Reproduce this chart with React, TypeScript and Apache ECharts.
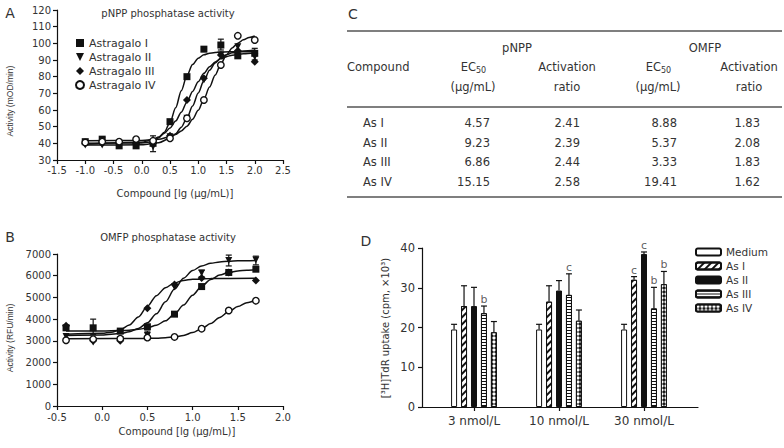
import React, { useEffect, useRef } from 'react';
import * as echarts from 'echarts';

// ---------- Panel A data (pNPP) ----------
const seriesNamesA = ['Astragalo I', 'Astragalo II', 'Astragalo III', 'Astragalo IV'];
const pointsA_I = [[-1.0, 41], [-0.7, 42.5], [-0.4, 38.5], [-0.1, 38.5], [0.2, 40], [0.5, 53], [0.8, 80], [1.1, 96.5], [1.4, 99], [1.7, 92.5], [2.0, 94]];
const pointsA_II = [[-1.0, 39], [-0.7, 39], [-0.4, 39.5], [-0.1, 39.5], [0.2, 38], [0.5, 44], [0.8, 55], [1.1, 78], [1.4, 93], [1.7, 98], [2.0, 92]];
const pointsA_III = [[-1.0, 40], [-0.7, 40], [-0.4, 40], [-0.1, 40], [0.2, 40], [0.5, 44.5], [0.8, 66], [1.1, 79], [1.4, 93], [1.7, 95.5], [2.0, 89]];
const pointsA_IV = [[-1.0, 40.5], [-0.7, 41], [-0.4, 41], [-0.1, 42.5], [0.2, 41.5], [0.5, 43], [0.8, 55], [1.1, 66], [1.4, 87], [1.7, 104.5], [2.0, 102]];
const curveA_I = [[-1.0, 40], [0.0, 40.2], [0.2, 41], [0.3, 43.3], [0.4, 46.7], [0.5, 52.5], [0.6, 61.3], [0.7, 71.6], [0.8, 80.7], [0.9, 87.3], [1.0, 91.1], [1.1, 93.1], [1.2, 94.1], [1.4, 94.8], [1.7, 95], [2.0, 95]];
const curveA_II = [[-1.0, 39], [0.0, 39.1], [0.3, 40.4], [0.5, 43], [0.6, 45.7], [0.7, 49.7], [0.8, 55.3], [0.9, 62.4], [1.0, 70.2], [1.1, 77.7], [1.2, 83.8], [1.3, 88.2], [1.4, 91.3], [1.5, 93.1], [1.6, 94.3], [1.8, 95.4], [2.0, 95.8]];
const curveA_III = [[-1.0, 39.5], [0.0, 40.6], [0.2, 42.3], [0.3, 43.8], [0.4, 46], [0.5, 49.2], [0.6, 53.4], [0.7, 58.7], [0.8, 64.8], [0.9, 71.1], [1.0, 77], [1.1, 82], [1.2, 85.9], [1.3, 88.8], [1.4, 90.7], [1.5, 92], [1.6, 92.9], [1.8, 93.8], [2.0, 94.2]];
const curveA_IV = [[-1.0, 41.5], [0.0, 41.75], [0.3, 42.5], [0.5, 44], [0.6, 45.3], [0.7, 47.4], [0.8, 50.3], [0.9, 54.4], [1.0, 59.9], [1.1, 66.5], [1.2, 73.75], [1.3, 81], [1.4, 87.6], [1.5, 93.1], [1.6, 97.2], [1.7, 100.1], [1.8, 102.1], [1.9, 103.5], [2.0, 104.4]];
const errorsA = [[-0.7, 40.5, 43.5], [0.2, 35, 44.5], [1.4, 96, 102.5], [2.0, 90, 97]];

// ---------- Panel B data (OMFP) ----------
const pointsB_I = [[-0.4, 3600], [-0.1, 3600], [0.2, 3450], [0.5, 3650], [0.8, 4230], [1.1, 5500], [1.4, 6150], [1.7, 6300]];
const pointsB_II = [[-0.4, 3200], [-0.1, 2950], [0.2, 3050], [0.5, 3250], [0.8, 5480], [1.1, 6120], [1.4, 6700], [1.7, 6720]];
const pointsB_III = [[-0.4, 3700], [-0.1, 3000], [0.2, 3000], [0.5, 4500], [0.8, 5600], [1.1, 5900], [1.4, 6150], [1.7, 5780]];
const pointsB_IV = [[-0.4, 3030], [-0.1, 3080], [0.2, 3100], [0.5, 3150], [0.8, 3180], [1.1, 3560], [1.4, 4400], [1.7, 4850]];
const curveB_I = [[-0.4, 3450], [0.0, 3455], [0.2, 3472], [0.3, 3493], [0.4, 3530], [0.5, 3598], [0.6, 3720], [0.7, 3925], [0.8, 4235], [0.9, 4647], [1.0, 5103], [1.1, 5515], [1.2, 5825], [1.3, 6030], [1.4, 6151], [1.5, 6220], [1.6, 6257], [1.7, 6278]];
const curveB_II = [[-0.4, 3250], [0.0, 3272], [0.2, 3336], [0.3, 3418], [0.4, 3570], [0.5, 3834], [0.6, 4250], [0.7, 4796], [0.8, 5383], [0.9, 5886], [1.0, 6237], [1.1, 6451], [1.2, 6571], [1.3, 6635], [1.4, 6667], [1.5, 6684], [1.7, 6698]];
const curveB_III = [[-0.4, 3300], [0.0, 3345], [0.1, 3399], [0.2, 3511], [0.3, 3729], [0.4, 4097], [0.5, 4590], [0.6, 5083], [0.7, 5451], [0.8, 5669], [0.9, 5782], [1.0, 5836], [1.2, 5872], [1.7, 5880]];
const curveB_IV = [[-0.4, 3100], [0.5, 3110], [0.6, 3125], [0.7, 3145], [0.8, 3180], [0.9, 3250], [1.0, 3380], [1.1, 3560], [1.2, 3800], [1.3, 4080], [1.4, 4350], [1.5, 4580], [1.6, 4760], [1.7, 4880]];
const errorsB = [[-0.1, 3300, 4000], [0.5, 3050, 3450], [1.1, 5950, 6250], [1.4, 6450, 6950], [1.7, 6500, 6900]];

// ---------- Panel C table ----------
const tableCompounds = ['As I', 'As II', 'As III', 'As IV'];
const pnppEC50 = ['4.57', '9.23', '6.86', '15.15'];
const pnppRatio = ['2.41', '2.39', '2.44', '2.58'];
const omfpEC50 = ['8.88', '5.37', '3.33', '19.41'];
const omfpRatio = ['1.83', '2.08', '1.83', '1.62'];

// ---------- Panel D data ----------
const doses = ['3 nmol/L', '10 nmol/L', '30 nmol/L'];
const groupNamesD = ['Medium', 'As I', 'As II', 'As III', 'As IV'];
const valuesD = [
  [19.5, 19.5, 19.5],
  [25.4, 26.5, 32.0],
  [25.4, 29.3, 38.5],
  [23.6, 28.2, 24.8],
  [18.8, 21.7, 30.9],
];
const errHighD = [
  [20.8, 20.8, 20.8],
  [30.5, 30.5, 32.8],
  [30.1, 31.8, 39.0],
  [25.4, 33.5, 30.1],
  [21.5, 24.4, 34.1],
];
const lettersD = [
  ['', '', ''],
  ['', '', 'c'],
  ['', '', 'c'],
  ['b', 'c', 'b'],
  ['', '', 'b'],
];

const FONT = "'DejaVu Sans', sans-serif";
const FONT2 = "'Liberation Sans', sans-serif";
const TXT = '#333';
const AX = '#111';
const BAR_W = 6;
const BAR_GAP = 0.66;
const BAR_STEP = BAR_W * (1 + BAR_GAP);

function axisStyle(fs: number, margin: number) {
  return {
    axisLine: { show: true, onZero: false, lineStyle: { color: AX, width: 1.2 } },
    axisTick: { show: true, length: 4, lineStyle: { color: AX, width: 1.2 } },
    axisLabel: { color: TXT, fontSize: fs, fontFamily: FONT, margin },
    splitLine: { show: false },
  };
}

function errRender(params: any, api: any) {
  const x = api.value(0);
  const lo = api.coord([x, api.value(1)]);
  const hi = api.coord([x, api.value(2)]);
  const w = 3;
  const style = { stroke: AX, lineWidth: 1.2 };
  return {
    type: 'group',
    children: [
      { type: 'line', shape: { x1: lo[0], y1: lo[1], x2: hi[0], y2: hi[1] }, style },
      { type: 'line', shape: { x1: hi[0] - w, y1: hi[1], x2: hi[0] + w, y2: hi[1] }, style },
      { type: 'line', shape: { x1: lo[0] - w, y1: lo[1], x2: lo[0] + w, y2: lo[1] }, style },
    ],
  };
}

const errDataD: number[][] = [];
const letterData: any[] = [];
for (let s = 0; s < valuesD.length; s++) {
  for (let c = 0; c < doses.length; c++) {
    errDataD.push([c, valuesD[s][c], errHighD[s][c], s]);
    if (lettersD[s][c]) {
      letterData.push({
        value: [c, errHighD[s][c]],
        label: { formatter: lettersD[s][c], offset: [(s - 2) * BAR_STEP, 0] },
      });
    }
  }
}

function errRenderD(params: any, api: any) {
  const c = api.value(0);
  const s = api.value(3);
  const off = (s - 2) * BAR_STEP;
  const lo = api.coord([c, api.value(1)]);
  const hi = api.coord([c, api.value(2)]);
  const x = lo[0] + off;
  const style = { stroke: AX, lineWidth: 1.2 };
  return {
    type: 'group',
    children: [
      { type: 'line', shape: { x1: x, y1: lo[1], x2: x, y2: hi[1] }, style },
      { type: 'line', shape: { x1: x - 3, y1: hi[1], x2: x + 3, y2: hi[1] }, style },
    ],
  };
}

function scatter(name: string, data: number[][], idx: number, symbol: string, size: number, fill: string) {
  return {
    type: 'scatter',
    name,
    data,
    xAxisIndex: idx,
    yAxisIndex: idx,
    symbol,
    symbolSize: size,
    itemStyle: { color: fill, borderColor: AX, borderWidth: fill === '#fff' ? 1.4 : 0, opacity: 1 },
    z: 5,
  };
}

function curve(data: number[][], idx: number) {
  return {
    type: 'line',
    name: 'fit',
    data,
    xAxisIndex: idx,
    yAxisIndex: idx,
    showSymbol: false,
    symbol: 'none',
    smooth: 0.3,
    smoothMonotone: 'x',
    lineStyle: { color: AX, width: 1.5 },
    silent: true,
    z: 3,
  };
}

const TRI_DOWN = 'path://M0,0L10,0L5,10Z';

function txt(text: string, x: number, y: number, fs: number, align = 'center', extra: any = {}) {
  return {
    type: 'text',
    x,
    y,
    silent: true,
    style: { text, fill: TXT, fontSize: fs, fontFamily: FONT, align, verticalAlign: 'middle' },
    ...extra,
  };
}

function buildGraphics() {
  const g: any[] = [];
  // panel letters
  g.push(txt('A', 10, 13, 14));
  g.push(txt('B', 10, 237, 14));
  g.push(txt('C', 353, 14, 14));
  g.push(txt('D', 366, 241, 14));
  // titles
  g.push(txt('pNPP phosphatase activity', 168, 13, 10));
  g.push(txt('OMFP phosphatase activity', 168, 237, 10));
  // axis names
  g.push(txt('Compound [lg (μg/mL)]', 175, 193, 10));
  g.push(txt('Compound [lg (μg/mL)]', 177, 431, 10));
  g.push({ ...txt('Activity (mOD/min)', 10, 101, 8.5), rotation: Math.PI / 2 });
  g[g.length - 1].style.fontFamily = FONT2;
  g.push({ ...txt('Activity (RFU/min)', 10, 338, 8.5), rotation: Math.PI / 2 });
  g[g.length - 1].style.fontFamily = FONT2;
  g.push({ ...txt('[³H]TdR uptake (cpm, ×10³)', 385, 328, 10), rotation: Math.PI / 2 });

  // table rules
  const rule = (y: number) => ({ type: 'line', silent: true, shape: { x1: 347, y1: y, x2: 782, y2: y }, style: { stroke: '#555', lineWidth: 1.5 } });
  g.push(rule(31), rule(107), rule(197));
  const FS = 11.5;
  g.push(txt('pNPP', 517, 48, FS));
  g.push(txt('OMFP', 705, 48, FS));
  g.push(txt('Compound', 347, 67, FS, 'left'));
  [473, 658].forEach((cx) => {
    g.push(txt('EC', cx + 3, 67, FS, 'right'));
    g.push(txt('50', cx + 3, 70, 8, 'left'));
    g.push(txt('(μg/mL)', cx, 87, FS));
  });
  [567, 749].forEach((cx) => {
    g.push(txt('Activation', cx, 67, FS));
    g.push(txt('ratio', cx, 87, FS));
  });
  const rowsY = [123, 143, 162, 182];
  tableCompounds.forEach((name, i) => {
    const y = rowsY[i];
    g.push(txt(name, 363, y, FS, 'left'));
    g.push(txt(pnppEC50[i], 490, y, FS, 'right'));
    g.push(txt(pnppRatio[i], 580, y, FS, 'right'));
    g.push(txt(omfpEC50[i], 677, y, FS, 'right'));
    g.push(txt(omfpRatio[i], 760, y, FS, 'right'));
  });
  return g;
}

const decals: any[] = [
  null,
  { symbol: 'rect', symbolSize: 1, color: AX, backgroundColor: 'rgba(0,0,0,0)', dashArrayX: [1, 0], dashArrayY: [1.2, 2.6], rotation: -Math.PI / 4 },
  null,
  { symbol: 'rect', symbolSize: 1, color: AX, backgroundColor: 'rgba(0,0,0,0)', dashArrayX: [1, 0], dashArrayY: [1, 1.6], rotation: 0 },
  { symbol: 'circle', symbolSize: 0.8, color: '#fff', backgroundColor: AX, dashArrayX: [3.5, 0], dashArrayY: [3.5, 0], rotation: 0 },
];
const fillsD = ['#fff', '#fff', AX, '#fff', AX];

export default function App() {
  const ref = useRef<HTMLDivElement>(null);
  useEffect(() => {
    const chart = echarts.init(ref.current!, null, { renderer: 'svg' });
    const fmt1 = (v: number) => v.toFixed(1);
    const fmtInt = (v: number) => String(v);
    const option: any = {
      animation: false,
      backgroundColor: '#fff',
      textStyle: { fontFamily: FONT },
      grid: [
        { left: 57, top: 10, width: 226, height: 150 },
        { left: 57, top: 254, width: 226, height: 152 },
        { left: 431.5, top: 248, width: 255, height: 159 },
        { left: 422, top: 248, width: 276, height: 159 },
      ],
      xAxis: [
        { gridIndex: 0, type: 'value', min: -1.5, max: 2.5, interval: 0.5, ...axisStyle(10, 5), axisLabel: { ...axisStyle(10, 5).axisLabel, formatter: fmt1, showMinLabel: true, showMaxLabel: true } },
        { gridIndex: 1, type: 'value', min: -0.5, max: 2.0, interval: 0.5, ...axisStyle(10, 6), axisLabel: { ...axisStyle(10, 6).axisLabel, formatter: fmt1, showMinLabel: true, showMaxLabel: true } },
        {
          gridIndex: 2, type: 'category', data: doses, boundaryGap: true,
          axisLine: { show: false },
          axisTick: { show: true, alignWithLabel: true, length: 4, lineStyle: { color: AX, width: 1.2 } },
          axisLabel: { color: TXT, fontSize: 12, fontFamily: FONT, margin: 8 },
          splitLine: { show: false },
        },
        {
          gridIndex: 3, type: 'value', min: 0, max: 1,
          axisLine: { show: true, onZero: false, lineStyle: { color: AX, width: 1.2 } },
          axisTick: { show: false }, axisLabel: { show: false }, splitLine: { show: false },
        },
      ],
      yAxis: [
        { gridIndex: 0, type: 'value', min: 30, max: 120, interval: 10, ...axisStyle(10, 6), axisLabel: { ...axisStyle(10, 6).axisLabel, formatter: fmtInt } },
        { gridIndex: 1, type: 'value', min: 0, max: 7000, interval: 1000, ...axisStyle(10, 6), axisLabel: { ...axisStyle(10, 6).axisLabel, formatter: fmtInt } },
        { gridIndex: 2, type: 'value', min: 0, max: 40, interval: 10, offset: 9.5, ...axisStyle(11.5, 7), axisLabel: { ...axisStyle(11.5, 7).axisLabel, formatter: fmtInt } },
        { gridIndex: 3, type: 'value', min: 0, max: 40, show: false },
      ],
      legend: [
        {
          data: seriesNamesA, orient: 'vertical', left: 75, top: 37, padding: 0,
          itemWidth: 8, itemHeight: 8, itemGap: 2,
          textStyle: { color: TXT, fontSize: 11, fontFamily: FONT, lineHeight: 12 },
          selectedMode: false,
        },
        {
          data: groupNamesD, orient: 'vertical', left: 695, top: 246, padding: 0,
          itemWidth: 25, itemHeight: 7, itemGap: 2,
          textStyle: { color: TXT, fontSize: 10.5, fontFamily: FONT, lineHeight: 12 },
          selectedMode: false,
        },
      ],
      graphic: buildGraphics(),
      series: [
        curve(curveA_I, 0), curve(curveA_II, 0), curve(curveA_III, 0), curve(curveA_IV, 0),
        scatter(seriesNamesA[0], pointsA_I, 0, 'rect', 7, AX),
        scatter(seriesNamesA[1], pointsA_II, 0, TRI_DOWN, 7, AX),
        scatter(seriesNamesA[2], pointsA_III, 0, 'diamond', 8, AX),
        scatter(seriesNamesA[3], pointsA_IV, 0, 'circle', 6.5, '#fff'),
        { type: 'custom', name: 'errA', xAxisIndex: 0, yAxisIndex: 0, data: errorsA, renderItem: errRender, encode: { x: 0, y: [1, 2] }, itemStyle: { color: AX }, z: 4, silent: true },
        curve(curveB_I, 1), curve(curveB_II, 1), curve(curveB_III, 1), curve(curveB_IV, 1),
        scatter('B I', pointsB_I, 1, 'rect', 7, AX),
        scatter('B II', pointsB_II, 1, TRI_DOWN, 7, AX),
        scatter('B III', pointsB_III, 1, 'diamond', 8, AX),
        scatter('B IV', pointsB_IV, 1, 'circle', 6.5, '#fff'),
        { type: 'custom', name: 'errB', xAxisIndex: 1, yAxisIndex: 1, data: errorsB, renderItem: errRender, encode: { x: 0, y: [1, 2] }, itemStyle: { color: AX }, z: 4, silent: true },
        ...groupNamesD.map((name, s) => ({
          type: 'bar', name, xAxisIndex: 2, yAxisIndex: 2, data: valuesD[s],
          barWidth: BAR_W, barGap: `${BAR_GAP * 100}%`,
          itemStyle: { color: fillsD[s], borderColor: AX, borderWidth: 1, decal: decals[s] || undefined },
          silent: true,
        })),
        { type: 'custom', name: 'errD', xAxisIndex: 2, yAxisIndex: 2, data: errDataD, renderItem: errRenderD, encode: { x: 0, y: [1, 2] }, itemStyle: { color: AX }, z: 4, silent: true },
        {
          type: 'scatter', name: 'sigD', xAxisIndex: 2, yAxisIndex: 2, data: letterData,
          symbolSize: 0, itemStyle: { color: 'rgba(0,0,0,0)' }, silent: true, z: 6,
          label: { show: true, position: 'top', distance: 1, color: TXT, fontSize: 11, fontFamily: FONT },
        },
      ],
    };
    chart.setOption(option);
    return () => chart.dispose();
  }, []);
  return <div ref={ref} style={{ position: 'absolute', left: 0, top: 0, width: 784, height: 448 }} />;
}
